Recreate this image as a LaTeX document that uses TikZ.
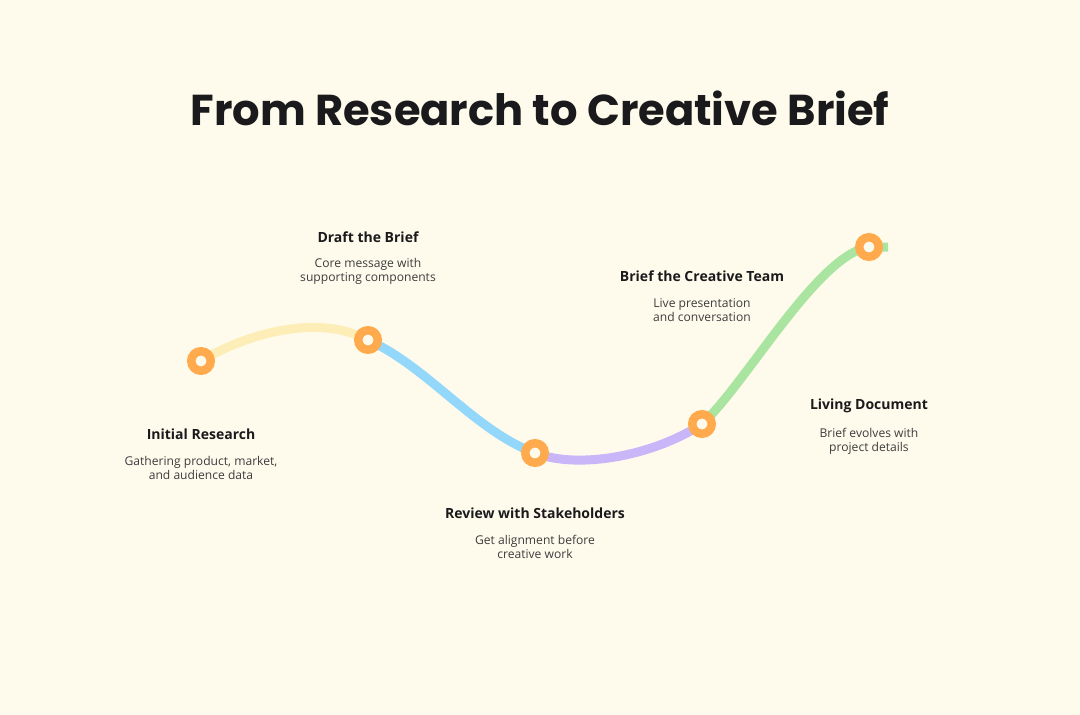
\documentclass[tikz,border=0pt]{standalone}
\usepackage{fontspec}
\setmainfont{Open Sans}
\newfontfamily\titlefont{Poppins}[UprightFont={* Bold}]
\newfontfamily\headfont{Open Sans}
\definecolor{bg}{RGB}{255,251,236}
\definecolor{ring}{RGB}{255,170,77}
\definecolor{segA}{RGB}{253,237,182}
\definecolor{segB}{RGB}{147,215,251}
\definecolor{segC}{RGB}{200,182,249}
\definecolor{segD}{RGB}{169,229,161}
\definecolor{ink}{RGB}{26,26,28}
\begin{document}
\begin{tikzpicture}[x=1pt,y=-1pt,
  stop/.style={circle,draw=ring,line width=8.5pt,fill=bg,minimum size=19.5pt,inner sep=0pt},
  seg/.style={line width=9pt},
  head/.style={text=ink,font=\headfont\bfseries\fontsize{14}{16}\selectfont,inner sep=0pt},
  desc/.style={text=ink!85,font=\fontsize{12.1}{14}\selectfont,align=center,inner sep=0pt}]
\fill[bg] (0,0) rectangle (1080,715);
\useasboundingbox (0,0) rectangle (1080,715);
\node[text=ink,font=\titlefont\fontsize{43.2}{50}\selectfont] (title) at (540,108) {From Research to Creative Brief};
\coordinate (p1) at (201,361);
\coordinate (p2) at (368,340);
\coordinate (p3) at (535,453);
\coordinate (p4) at (702,424);
\coordinate (p5) at (869,247);
\coordinate (pend) at (888,247);
\draw[seg,segA] (p1) .. controls (246,334) and (318,313) .. (p2);
\draw[seg,segB] (p2) .. controls (428,367) and (475,431) .. (p3);
\draw[seg,segC] (p3) .. controls (580,470) and (655,455) .. (p4);
\draw[seg,segD] (p4) .. controls (745,385) and (818,254) .. (p5) -- (pend);
\node[stop] (n1) at (p1) {};
\node[stop] (n2) at (p2) {};
\node[stop] (n3) at (p3) {};
\node[stop] (n4) at (p4) {};
\node[stop] (n5) at (p5) {};
\node[head] (h1) at (201,434) {Initial Research};
\node[desc] (d1) at (201,468) {Gathering product, market,\\and audience data};
\node[head] (h2) at (368,237) {Draft the Brief};
\node[desc] (d2) at (368,271) {Core message with\\supporting components};
\node[head] (h3) at (535,513) {Review with Stakeholders};
\node[desc] (d3) at (535,547) {Get alignment before\\creative work};
\node[head] (h4) at (702,276) {Brief the Creative Team};
\node[desc] (d4) at (702,310) {Live presentation\\and conversation};
\node[head] (h5) at (869,406) {Living Document};
\node[desc] (d5) at (869,441) {Brief evolves with\\project details};
\end{tikzpicture}
\end{document}
